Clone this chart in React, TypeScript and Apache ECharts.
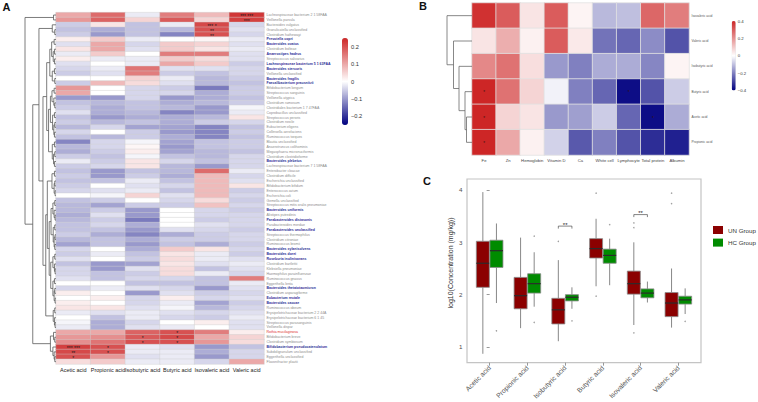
import { useEffect, useRef } from 'react';
import * as echarts from 'echarts';

const FONT = '"Liberation Sans", Arial, Helvetica, sans-serif';

// ---------- Panel A ----------
const acidColumns = ['Acetic acid', 'Propionic acid', 'Isobutyric acid', 'Butyric acid', 'Isovaleric acid', 'Valeric acid'];

const taxa = [
  'Lachnospiraceae bacterium 2 1 58FAA', 'Veillonella parvula', 'Bacteroides vulgatus', 'Granulicatella unclassified',
  'Clostridium hathewayi', 'Prevotella copri', 'Bacteroides ovatus', 'Clostridium bolteae', 'Anaerostipes hadrus',
  'Streptococcus salivarius', 'Lachnospiraceae bacterium 5 1 63FAA', 'Bacteroides stercoris', 'Veillonella unclassified',
  'Bacteroides fragilis', 'Faecalibacterium prausnitzii', 'Bifidobacterium longum', 'Streptococcus sanguinis',
  'Veillonella atypica', 'Clostridium ramosum', 'Clostridiales bacterium 1 7 47FAA', 'Coprobacillus unclassified',
  'Streptococcus peroris', 'Clostridium nexile', 'Eubacterium eligens', 'Collinsella aerofaciens', 'Ruminococcus torques',
  'Blautia unclassified', 'Anaerotruncus colihominis', 'Megasphaera micronuciformis', 'Clostridium clostridioforme',
  'Bacteroides plebeius', 'Lachnospiraceae bacterium 7 1 58FAA', 'Enterobacter cloacae', 'Clostridium difficile',
  'Escherichia unclassified', 'Bifidobacterium bifidum', 'Enterococcus avium', 'Escherichia coli', 'Gemella unclassified',
  'Streptococcus mitis oralis pneumoniae', 'Bacteroides uniformis', 'Alistipes putredinis', 'Parabacteroides distasonis',
  'Parabacteroides merdae', 'Parabacteroides unclassified', 'Streptococcus thermophilus', 'Clostridium citroniae',
  'Ruminococcus bromii', 'Bacteroides xylanisolvens', 'Bacteroides dorei', 'Roseburia inulinivorans', 'Clostridium bartlettii',
  'Klebsiella pneumoniae', 'Haemophilus parainfluenzae', 'Ruminococcus gnavus', 'Eggerthella lenta',
  'Bacteroides thetaiotaomicron', 'Clostridium asparagiforme', 'Eubacterium rectale', 'Bacteroides caccae',
  'Ruminococcus obeum', 'Erysipelotrichaceae bacterium 2 2 44A', 'Erysipelotrichaceae bacterium 6 1 45',
  'Streptococcus parasanguinis', 'Veillonella dispar', 'Rothia mucilaginosa', 'Bifidobacterium breve',
  'Clostridium symbiosum', 'Bifidobacterium pseudocatenulatum', 'Subdoligranulum unclassified',
  'Eggerthella unclassified', 'Flavonifractor plautii',
];
const blueTaxa = [5, 6, 8, 10, 11, 13, 14, 30, 40, 42, 44, 48, 49, 50, 56, 58, 59, 68];
const redTaxa = [65];

const aceticCorr = [
  0.10, 0.12, -0.05, -0.06, -0.05, 0.02, -0.03, 0.03, -0.02, 0.02,
  -0.03, -0.04, -0.05, 0.00, -0.05, 0.12, 0.10, -0.10, -0.06, -0.05,
  -0.03, -0.06, -0.05, -0.07, -0.04, -0.06, -0.12, -0.07, -0.08, -0.05,
  -0.02, -0.05, -0.06, -0.05, -0.06, -0.05, -0.04, 0.00, -0.06, -0.07,
  -0.07, -0.08, -0.07, -0.06, -0.06, -0.05, -0.07, -0.09, -0.04, -0.05,
  -0.03, -0.06, -0.04, -0.04, -0.03, 0.00, -0.04, 0.02, 0.00, 0.02,
  0.03, -0.02, 0.00, -0.01, -0.02, 0.10, 0.12, 0.13, 0.22, 0.21,
  0.20, 0.04,
];
const propionicCorr = [
  0.17, 0.18, 0.03, -0.08, -0.10, 0.06, 0.10, 0.10, 0.06, -0.02,
  0.00, -0.02, -0.03, 0.00, 0.08, 0.00, 0.00, -0.10, -0.07, -0.08,
  -0.08, -0.10, -0.07, -0.04, 0.00, -0.07, -0.04, -0.04, -0.05, -0.06,
  -0.05, -0.04, -0.10, -0.10, -0.06, 0.00, -0.03, -0.01, -0.05, -0.09,
  -0.05, -0.03, -0.05, -0.04, -0.06, -0.08, -0.06, -0.06, 0.00, -0.02,
  0.00, -0.10, -0.10, -0.06, -0.06, 0.00, -0.02, 0.00, 0.02, 0.00,
  0.03, -0.03, -0.06, -0.08, -0.08, 0.10, 0.13, 0.16, 0.20, 0.20,
  0.12, 0.06,
];
const isobutyricCorr = [
  -0.02, 0.05, -0.06, -0.06, -0.06, -0.02, -0.04, -0.03, 0.00, -0.02,
  -0.02, 0.16, 0.15, 0.05, 0.04, -0.04, -0.04, -0.04, -0.06, -0.06,
  -0.07, -0.08, -0.06, -0.09, -0.05, -0.05, -0.01, 0.01, 0.02, -0.01,
  0.03, 0.03, -0.06, -0.05, -0.02, -0.03, -0.02, 0.05, 0.00, -0.05,
  -0.10, -0.10, -0.13, -0.08, -0.10, -0.12, -0.08, -0.10, -0.08, -0.06,
  -0.05, -0.09, -0.03, -0.05, -0.04, -0.06, -0.03, -0.10, -0.04, -0.04,
  -0.03, -0.02, -0.02, -0.04, -0.03, 0.18, 0.19, 0.20, -0.02, -0.02,
  -0.03, -0.02,
];
const butyricCorr = [
  0.15, 0.19, -0.02, -0.07, -0.12, 0.00, 0.06, 0.06, 0.15, 0.06,
  0.10, -0.03, -0.05, -0.02, -0.03, -0.05, -0.04, -0.10, -0.08, -0.07,
  -0.12, -0.08, -0.08, -0.09, -0.10, -0.08, -0.09, -0.10, -0.09, -0.06,
  -0.04, -0.07, -0.07, -0.08, -0.06, -0.04, -0.06, -0.03, -0.04, -0.05,
  0.00, 0.00, 0.00, 0.00, -0.03, -0.08, -0.05, -0.06, 0.06, 0.03,
  0.04, 0.03, 0.04, 0.04, -0.04, -0.06, -0.04, -0.03, 0.02, -0.02,
  -0.01, -0.03, -0.04, 0.00, -0.02, 0.20, 0.21, 0.20, -0.03, -0.02,
  -0.02, -0.02,
];
const isovalericCorr = [
  0.08, 0.05, 0.21, 0.20, 0.20, 0.01, 0.05, 0.03, 0.15, 0.04,
  0.06, -0.03, -0.06, -0.07, -0.07, -0.13, -0.08, -0.08, -0.07, -0.10,
  -0.10, -0.07, -0.05, -0.12, -0.12, -0.12, -0.06, -0.06, -0.07, -0.07,
  -0.06, -0.10, 0.17, 0.08, 0.08, 0.08, 0.08, 0.08, 0.04, 0.07,
  -0.04, -0.04, -0.05, -0.03, -0.04, -0.05, -0.05, -0.08, 0.03, -0.02,
  -0.02, -0.03, -0.06, -0.02, -0.06, -0.06, -0.10, -0.05, -0.04, -0.09,
  -0.07, -0.04, -0.05, 0.02, 0.00, 0.15, 0.10, 0.12, -0.10, -0.08,
  -0.10, -0.04,
];
const valericCorr = [
  0.23, 0.22, -0.04, -0.03, -0.04, -0.02, -0.03, -0.02, -0.03, -0.03,
  -0.05, -0.04, -0.04, -0.05, -0.06, -0.05, -0.05, -0.06, -0.05, -0.01,
  -0.02, 0.03, -0.04, -0.06, -0.05, -0.06, -0.05, -0.05, -0.06, -0.04,
  -0.04, -0.04, -0.02, -0.04, -0.03, 0.03, -0.05, -0.04, -0.05, -0.04,
  -0.05, -0.04, -0.04, -0.04, -0.05, -0.04, -0.04, -0.05, -0.04, -0.05,
  -0.03, -0.02, -0.03, -0.04, 0.15, -0.02, -0.03, -0.04, -0.03, -0.05,
  -0.04, -0.03, -0.02, -0.03, -0.03, 0.02, 0.05, 0.04, -0.06, -0.04,
  -0.04, 0.10,
];
// [row, column, significance]
const taxaStars: [number, number, string][] = [
  [0, 5, '*** ***'], [1, 5, '***'], [2, 4, '*** *'], [3, 4, '**'], [4, 4, '**'],
  [65, 3, '*'], [66, 2, '*'], [66, 3, '*'], [67, 2, '*'], [67, 3, '*'],
  [68, 0, '*** ***'], [68, 1, '*'], [69, 0, '**'], [69, 1, '*'], [70, 0, '*'],
];
// hierarchical clustering: [left, right, height], leaves are row indices
const taxaTree: any = [
  [0, 1, 0.08],
  [
    [
      [2, [3, 4, 0.04], 0.12],
      [
        [
          [
            [[5, 6, 0.06], [[7, 8, 0.05], [9, 10, 0.05], 0.09], 0.14],
            [[11, 12, 0.05], [13, 14, 0.04], 0.12],
            0.2,
          ],
          [
            [
              [[15, 16, 0.06], [17, [18, 19, 0.04], 0.07], 0.13],
              [[20, 21, 0.05], [[22, 23, 0.04], [24, 25, 0.05], 0.07], 0.11],
              0.18,
            ],
            [[26, 27, 0.05], [[28, 29, 0.04], [30, 31, 0.05], 0.08], 0.12],
            0.24,
          ],
          0.3,
        ],
        [
          [
            [[32, 33, 0.05], [[34, 35, 0.04], [36, 37, 0.03], 0.06], 0.13],
            [
              [
                [[38, 39, 0.04], [40, [41, 42, 0.03], 0.06], 0.1],
                [[43, 44, 0.04], [[45, 46, 0.03], [47, 48, 0.04], 0.06], 0.09],
                0.16,
              ],
              [
                [[49, 50, 0.04], [51, [52, 53, 0.03], 0.05], 0.1],
                [[54, 55, 0.05], [[56, 57, 0.04], [58, 59, 0.03], 0.06], 0.1],
                0.17,
              ],
              0.22,
            ],
            0.28,
          ],
          [[60, 61, 0.04], [62, [63, 64, 0.03], 0.05], 0.09],
          0.33,
        ],
        0.42,
      ],
      0.55,
    ],
    [[65, [66, 67, 0.04], 0.08], [68, [69, [70, 71, 0.04], 0.06], 0.1], 0.18],
    0.75,
  ],
  1.0,
];

// ---------- Panel B ----------
const clinicalVars = ['Fe', 'Zn', 'Hemoglobin', 'Vitamin D', 'Ca', 'White cell', 'Lymphocyte', 'Total protein', 'Albumin'];
const acidRowsB = ['Isovaleric acid', 'Valeric acid', 'Isobutyric acid', 'Butyric acid', 'Acetic acid', 'Propionic acid'];
const isovalericB = [0.38, 0.30, 0.05, 0.30, 0.02, -0.11, -0.10, 0.28, 0.24];
const valericB = [0.05, 0.15, 0.025, 0.30, 0.04, -0.22, -0.24, -0.18, -0.27];
const isobutyricB = [0.22, 0.26, 0.06, -0.16, -0.20, -0.13, -0.13, -0.19, 0.02];
const butyricB = [0.40, 0.26, 0.08, -0.02, -0.20, -0.24, -0.38, -0.27, -0.08];
const aceticB = [0.42, 0.08, 0.05, -0.16, -0.15, -0.08, -0.24, -0.38, -0.13];
const propionicB = [0.44, 0.16, 0.025, -0.07, -0.26, -0.20, -0.27, -0.33, -0.35];
const clinicalStars: [number, number, string][] = [[3, 0, '*'], [4, 0, '*'], [5, 0, '*'], [3, 6, '*'], [4, 7, '*']];
const clinicalTree: any = [0, [1, [2, [3, [4, 5, 0.22], 0.28], 0.52], 0.74], 1.0];

// ---------- Panel C ----------
// [min, q1, median, q3, max]
const unStats = [
  [0.87, 2.14, 2.60, 3.02, 3.96],
  [1.36, 1.73, 1.98, 2.33, 3.09],
  [1.11, 1.44, 1.71, 1.93, 2.66],
  [2.16, 2.70, 2.88, 3.07, 3.45],
  [1.42, 2.01, 2.21, 2.45, 3.00],
  [1.37, 1.58, 1.84, 2.04, 2.50],
];
const hcStats = [
  [1.84, 2.52, 2.84, 3.04, 3.36],
  [1.77, 2.03, 2.21, 2.40, 2.81],
  [1.73, 1.88, 1.95, 2.00, 2.14],
  [2.18, 2.60, 2.75, 2.87, 3.07],
  [1.85, 1.94, 2.03, 2.11, 2.25],
  [1.63, 1.82, 1.90, 1.97, 2.12],
];
const unOutliers = [[1, 3.30], [2, 3.02], [3, 3.94], [3, 1.97], [3, 1.88], [4, 3.37], [4, 3.28], [4, 1.27], [5, 3.94], [5, 3.74], [5, 3.09]];
const hcOutliers = [[0, 4.08], [0, 1.31], [1, 3.12], [1, 2.98], [1, 1.47], [2, 1.50], [2, 1.35], [3, 3.34], [3, 2.14], [5, 1.49]];
const sigBrackets: [number, number, string][] = [[2, 3.31, '**'], [4, 3.53, '**']];
const yTicksC = [1, 2, 3, 4];
const yTitleC = 'log10(Concentration (mg/kg))';

function dendroSegments(tree: any): number[][] {
  const segs: number[][] = [];
  const walk = (n: any): [number, number] => {
    if (typeof n === 'number') return [n + 0.5, 0];
    const a = walk(n[0]);
    const b = walk(n[1]);
    segs.push([a[1], a[0], n[2], b[0], b[1]]);
    return [(a[0] + b[0]) / 2, n[2]];
  };
  walk(tree);
  return segs;
}

const minus = (v: number) => (v < 0 ? '\u2212' : '') + String(Math.abs(Math.round(v * 100) / 100));

export default function App() {
  const ref = useRef<HTMLDivElement>(null);
  useEffect(() => {
    if (!ref.current) return;
    const chart = echarts.init(ref.current, undefined, { renderer: 'svg' });

    const colsA = [aceticCorr, propionicCorr, isobutyricCorr, butyricCorr, isovalericCorr, valericCorr];
    const dataA: number[][] = [];
    colsA.forEach((col, c) => col.forEach((v, r) => dataA.push([c, r, v])));
    const starA = new Map<string, string>();
    taxaStars.forEach(([r, c, s]) => starA.set(`${c}-${r}`, s));

    const rowsB = [isovalericB, valericB, isobutyricB, butyricB, aceticB, propionicB];
    const dataB: number[][] = [];
    rowsB.forEach((row, r) => row.forEach((v, c) => dataB.push([c, r, v])));
    const starB = new Map<string, string>();
    clinicalStars.forEach(([r, c, s]) => starB.set(`${c}-${r}`, s));

    const palette = ['#000080', '#ffffff', '#CD2626'];

    const dendroRender = (color: string, lw: number) => (params: any, api: any) => {
      const a = api.coord([api.value(0), api.value(1)]);
      const b = api.coord([api.value(2), api.value(1)]);
      const c = api.coord([api.value(2), api.value(3)]);
      const d = api.coord([api.value(4), api.value(3)]);
      return {
        type: 'polyline',
        shape: { points: [a, b, c, d] },
        style: { stroke: color, fill: 'none', lineWidth: lw },
      };
    };

    const boxSeries = (name: string, stats: number[][], side: number, color: string) => ({
      type: 'custom',
      name,
      xAxisIndex: 4,
      yAxisIndex: 4,
      itemStyle: { color },
      encode: { x: 0, y: [1, 2, 3, 4, 5] },
      data: stats.map((s, i) => [i, ...s]),
      renderItem: (params: any, api: any) => {
        const cat = api.value(0);
        const band = api.size([1, 0])[0];
        const w = 0.345 * band;
        const pMin = api.coord([cat, api.value(1)]);
        const pQ1 = api.coord([cat, api.value(2)]);
        const pMed = api.coord([cat, api.value(3)]);
        const pQ3 = api.coord([cat, api.value(4)]);
        const pMax = api.coord([cat, api.value(5)]);
        const cx = pMin[0] + side * 0.18 * band;
        return {
          type: 'group',
          children: [
            { type: 'line', shape: { x1: cx, y1: pMax[1], x2: cx, y2: pQ3[1] }, style: { stroke: '#7a7a7a', lineWidth: 0.9 } },
            { type: 'line', shape: { x1: cx, y1: pQ1[1], x2: cx, y2: pMin[1] }, style: { stroke: '#7a7a7a', lineWidth: 0.9 } },
            {
              type: 'rect',
              shape: { x: cx - w / 2, y: pQ3[1], width: w, height: pQ1[1] - pQ3[1] },
              style: { fill: color, stroke: '#8a8a8a', lineWidth: 0.8 },
            },
            {
              type: 'line',
              shape: { x1: cx - w / 2, y1: pMed[1], x2: cx + w / 2, y2: pMed[1] },
              style: { stroke: '#2b2b2b', lineWidth: 1.2 },
            },
          ],
        };
      },
    });

    const outlierSeries = (name: string, pts: number[][], side: number) => ({
      type: 'custom',
      name: name + ' outliers',
      xAxisIndex: 4,
      yAxisIndex: 4,
      encode: { x: 0, y: 1 },
      data: pts,
      renderItem: (params: any, api: any) => {
        const band = api.size([1, 0])[0];
        const p = api.coord([api.value(0), api.value(1)]);
        return { type: 'circle', shape: { cx: p[0] + side * 0.18 * band, cy: p[1], r: 0.75 }, style: { fill: '#a0a0a0' } };
      },
    });

    const hiddenAxis = (gridIndex: number, min: number, max: number, inverse = false) => ({
      type: 'value', gridIndex, min, max, inverse, show: false,
      axisLine: { show: false }, axisTick: { show: false }, axisLabel: { show: false }, splitLine: { show: false },
    });

    const option: any = {
      animation: false,
      backgroundColor: '#ffffff',
      textStyle: { fontFamily: FONT },
      grid: [
        { left: 56, top: 12.6, width: 208, height: 351.5 },
        { left: 25, top: 12.6, width: 31, height: 351.5 },
        { left: 472, top: 3, width: 217, height: 152 },
        { left: 447, top: 3, width: 25, height: 152 },
        { left: 467, top: 179, width: 234, height: 185, show: true, borderColor: '#c4c4c4', borderWidth: 1.2, backgroundColor: 'transparent' },
        { left: 342, top: 38, width: 6, height: 87 },
        { left: 731.7, top: 21, width: 4, height: 69.5 },
      ],
      xAxis: [
        {
          type: 'category', gridIndex: 0, data: acidColumns, position: 'bottom',
          axisLine: { show: false }, axisTick: { show: false }, splitLine: { show: false },
          axisLabel: { interval: 0, fontSize: 5.5, color: '#222', margin: 3, fontFamily: FONT },
        },
        hiddenAxis(1, 0, 1, true),
        {
          type: 'category', gridIndex: 2, data: clinicalVars, position: 'bottom',
          axisLine: { show: false }, axisTick: { show: false }, splitLine: { show: false },
          axisLabel: { interval: 0, fontSize: 4.2, color: '#444', margin: 3, fontFamily: FONT },
        },
        hiddenAxis(3, 0, 1, true),
        {
          type: 'value', gridIndex: 4, min: -0.6, max: 5.6,
          axisLine: { show: false }, splitLine: { show: false },
          axisTick: { show: true, customValues: [0, 1, 2, 3, 4, 5], length: 3, lineStyle: { color: '#999' } },
          axisLabel: {
            customValues: [0, 1, 2, 3, 4, 5], formatter: (v: number) => acidColumns[Math.round(v)],
            rotate: 45, fontSize: 6.8, color: '#555555', margin: 4, fontFamily: FONT,
          },
        },
        hiddenAxis(5, 0, 1),
        hiddenAxis(6, 0, 1),
      ],
      yAxis: [
        {
          type: 'category', gridIndex: 0, data: taxa, inverse: true, position: 'right',
          axisLine: { show: false }, axisTick: { show: false }, splitLine: { show: false },
          axisLabel: {
            interval: 0, margin: 2.5, fontSize: 3.5, fontFamily: FONT,
            formatter: (v: string, i: number) => {
              const k = redTaxa.includes(i) ? 'r' : blueTaxa.includes(i) ? 'b' : 'g';
              return `{${k}|${v}}`;
            },
            rich: {
              g: { color: '#8c8c8c', fontSize: 3.5, fontFamily: FONT },
              b: { color: '#2d2d96', fontSize: 3.5, fontWeight: 'bold', fontFamily: FONT },
              r: { color: '#e03131', fontSize: 3.5, fontFamily: FONT },
            },
          },
        },
        hiddenAxis(1, 0, 72, true),
        {
          type: 'category', gridIndex: 2, data: acidRowsB, inverse: true, position: 'right',
          axisLine: { show: false }, axisTick: { show: false }, splitLine: { show: false },
          axisLabel: { interval: 0, fontSize: 3.3, color: '#555', margin: 2.5, fontFamily: FONT },
        },
        hiddenAxis(3, 0, 6, true),
        {
          type: 'value', gridIndex: 4, min: 0.7, max: 4.21,
          axisLine: { show: false }, splitLine: { show: false },
          axisTick: { show: true, customValues: yTicksC, length: 3, lineStyle: { color: '#999' } },
          axisLabel: { customValues: yTicksC, fontSize: 6.2, color: '#4d4d4d', margin: 4.5, fontFamily: FONT },
        },
        {
          type: 'value', gridIndex: 5, min: -0.25, max: 0.25, position: 'right',
          axisLine: { show: false }, axisTick: { show: false }, splitLine: { show: false },
          axisLabel: { customValues: [-0.2, -0.1, 0, 0.1, 0.2], formatter: minus, fontSize: 5.7, color: '#333', margin: 3, fontFamily: FONT },
        },
        {
          type: 'value', gridIndex: 6, min: -0.4, max: 0.4, position: 'right',
          axisLine: { show: false }, axisTick: { show: false }, splitLine: { show: false },
          axisLabel: { customValues: [-0.4, -0.2, 0, 0.2, 0.4], formatter: minus, fontSize: 4.3, color: '#333', margin: 2, fontFamily: FONT },
        },
      ],
      visualMap: [
        {
          type: 'continuous', seriesIndex: 0, min: -0.25, max: 0.25, left: 342, top: 38,
          itemWidth: 6, itemHeight: 87, padding: 0, calculable: false, hoverLink: false,
          inRange: { color: palette }, textStyle: { fontSize: 0 }, text: ['', ''],
        },
        {
          type: 'continuous', seriesIndex: 1, min: -0.4, max: 0.4, left: 731.7, top: 21,
          itemWidth: 4, itemHeight: 69.5, padding: 0, calculable: false, hoverLink: false,
          inRange: { color: palette }, textStyle: { fontSize: 0 }, text: ['', ''],
        },
      ],
      legend: {
        data: ['UN Group', 'HC Group'], orient: 'vertical', left: 713, top: 226,
        itemWidth: 10, itemHeight: 8, itemGap: 4.6, padding: 0, icon: 'rect', selectedMode: false,
        textStyle: { fontSize: 6.2, color: '#333', fontFamily: FONT },
      },
      graphic: [
        { type: 'text', left: 2.5, top: 1, style: { text: 'A', fontSize: 11, fontWeight: 'bold', fill: '#111', font: `bold 11px ${FONT}` } },
        { type: 'text', left: 419, top: 0.5, style: { text: 'B', fontSize: 11, fontWeight: 'bold', fill: '#111', font: `bold 11px ${FONT}` } },
        { type: 'text', left: 423, top: 175.5, style: { text: 'C', fontSize: 11, fontWeight: 'bold', fill: '#111', font: `bold 11px ${FONT}` } },
        {
          type: 'text', x: 450, y: 263, rotation: Math.PI / 2,
          style: { text: yTitleC, fill: '#333', align: 'center', verticalAlign: 'middle', font: `7px ${FONT}` },
        },
      ],
      series: [
        {
          type: 'heatmap', xAxisIndex: 0, yAxisIndex: 0, data: dataA,
          itemStyle: { borderColor: '#cfcfcf', borderWidth: 0.4 },
          emphasis: { disabled: true },
          label: {
            show: true, fontSize: 5, color: '#1a1a1a', offset: [0, 1], fontFamily: FONT,
            formatter: (p: any) => starA.get(`${p.value[0]}-${p.value[1]}`) || '',
          },
        },
        {
          type: 'heatmap', xAxisIndex: 2, yAxisIndex: 2, data: dataB,
          itemStyle: { borderColor: '#e2e2e2', borderWidth: 0.8 },
          emphasis: { disabled: true },
          label: {
            show: true, fontSize: 4.5, color: '#3a1010', offset: [0, 1], fontFamily: FONT,
            formatter: (p: any) => starB.get(`${p.value[0]}-${p.value[1]}`) || '',
          },
        },
        {
          type: 'custom', xAxisIndex: 1, yAxisIndex: 1, data: dendroSegments(taxaTree),
          encode: { x: [0, 2, 4], y: [1, 3] }, renderItem: dendroRender('#5a5a5a', 0.8), silent: true,
        },
        {
          type: 'custom', xAxisIndex: 3, yAxisIndex: 3, data: dendroSegments(clinicalTree),
          encode: { x: [0, 2, 4], y: [1, 3] }, renderItem: dendroRender('#6a6a6a', 0.8), silent: true,
        },
        boxSeries('UN Group', unStats, -1, '#8B0000'),
        boxSeries('HC Group', hcStats, 1, '#008B00'),
        outlierSeries('UN Group', unOutliers, -1),
        outlierSeries('HC Group', hcOutliers, 1),
        {
          type: 'custom', xAxisIndex: 4, yAxisIndex: 4, silent: true,
          encode: { x: 0, y: 1 },
          data: sigBrackets.map(([c, y]) => [c, y]),
          renderItem: (params: any, api: any) => {
            const band = api.size([1, 0])[0];
            const p = api.coord([api.value(0), api.value(1)]);
            const x1 = p[0] - 0.18 * band;
            const x2 = p[0] + 0.18 * band;
            return {
              type: 'group',
              children: [
                {
                  type: 'polyline',
                  shape: { points: [[x1, p[1] + 2.5], [x1, p[1]], [x2, p[1]], [x2, p[1] + 2.5]] },
                  style: { stroke: '#333', fill: 'none', lineWidth: 0.6 },
                },
                {
                  type: 'text', x: p[0], y: p[1] + 1.5,
                  style: { text: sigBrackets[params.dataIndex][2], fontSize: 6, fill: '#222', align: 'center', verticalAlign: 'bottom', fontFamily: FONT },
                },
              ],
            };
          },
        },
      ],
    };

    chart.setOption(option);
    return () => chart.dispose();
  }, []);

  return <div ref={ref} style={{ position: 'fixed', left: 0, top: 0, width: 758, height: 402, background: '#fff' }} />;
}
